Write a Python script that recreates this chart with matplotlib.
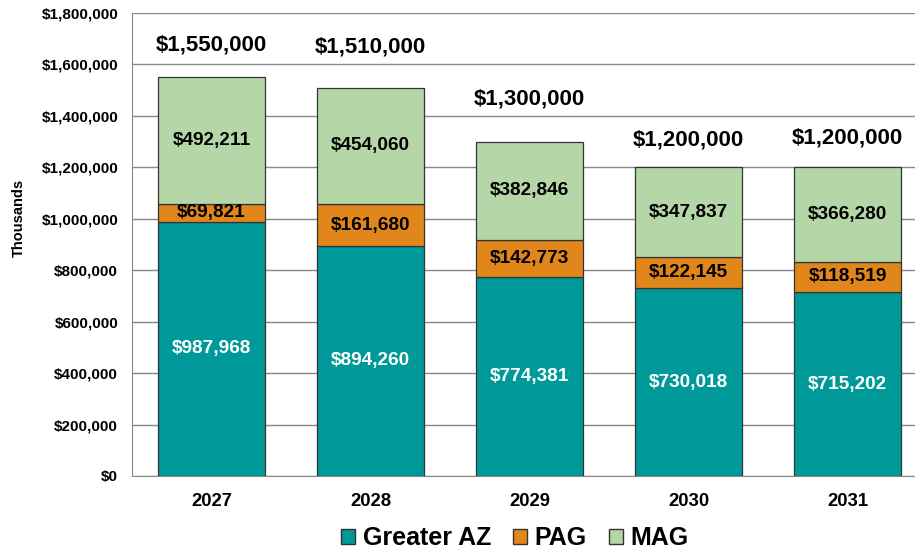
import matplotlib.pyplot as plt
from matplotlib.patches import Patch
from matplotlib.ticker import FuncFormatter
import numpy as np

plt.rcParams['font.family'] = ['Liberation Sans', 'DejaVu Sans']
plt.rcParams['font.weight'] = 'bold'

# data (thousands of dollars)
years = ['2027', '2028', '2029', '2030', '2031']
greater_az = [987968, 894260, 774381, 730018, 715202]
pag = [69821, 161680, 142773, 122145, 118519]
mag = [492211, 454060, 382846, 347837, 366280]
totals = [1550000, 1510000, 1300000, 1200000, 1200000]
total_label_gap = [125000, 158000, 166000, 106000, 114000]

c_az = '#009999'
c_pag = '#E0861A'
c_mag = '#B5D7A8'

fig = plt.figure(figsize=(9.15, 5.5), dpi=100)
ax = fig.add_axes([132/915, 74/550, 795/915, 463/550])

x = np.arange(len(years))
w = 0.67
b1 = ax.bar(x, greater_az, w, color=c_az, edgecolor='#333333', linewidth=0.9, zorder=3)
b2 = ax.bar(x, pag, w, bottom=greater_az, color=c_pag, edgecolor='#333333', linewidth=0.9, zorder=3)
bottom3 = np.array(greater_az) + np.array(pag)
b3 = ax.bar(x, mag, w, bottom=bottom3, color=c_mag, edgecolor='#333333', linewidth=0.9, zorder=3)

for i in range(len(years)):
    ax.text(x[i], greater_az[i] / 2, '${:,}'.format(greater_az[i]), ha='center', va='center',
            color='white', fontsize=13.7, fontweight='bold', zorder=4)
    ax.text(x[i], greater_az[i] + pag[i] / 2, '${:,}'.format(pag[i]), ha='center', va='center',
            color='black', fontsize=13.7, fontweight='bold', zorder=4)
    ax.text(x[i], bottom3[i] + mag[i] / 2, '${:,}'.format(mag[i]), ha='center', va='center',
            color='black', fontsize=13.7, fontweight='bold', zorder=4)
    ax.text(x[i], totals[i] + total_label_gap[i], '${:,}'.format(totals[i]), ha='center', va='center',
            color='black', fontsize=16, fontweight='bold', zorder=4)

ax.set_xlim(-0.5, len(years) - 0.5)
ax.set_ylim(0, 1800000)
ax.set_yticks(np.arange(0, 1800001, 200000))
ax.yaxis.set_major_formatter(FuncFormatter(lambda v, p: '${:,.0f}'.format(v)))
ax.set_xticks(x)
ax.set_xticklabels(years, fontsize=13.3, fontweight='bold')
ax.tick_params(axis='y', labelsize=11, length=0, pad=10)
ax.tick_params(axis='x', length=0, pad=12)
ax.grid(axis='y', color='#888888', linewidth=1.0, zorder=0)
for s in ['top', 'right']:
    ax.spines[s].set_visible(False)
ax.spines['left'].set_color('#888888')
ax.spines['bottom'].set_color('#888888')

ax.set_ylabel('Thousands', fontsize=10.5, fontweight='bold')
ax.yaxis.set_label_coords(-0.133, 0.557)

handles = [Patch(facecolor=c_az, edgecolor='#333333'),
           Patch(facecolor=c_pag, edgecolor='#333333'),
           Patch(facecolor=c_mag, edgecolor='#333333')]
fig.legend(handles, ['Greater AZ', 'PAG', 'MAG'], loc='center', bbox_to_anchor=(515/915, 1 - 538/550),
           ncol=3, frameon=False, handlelength=0.55, handleheight=0.55,
           handletextpad=0.3, columnspacing=0.9, prop={'weight': 'bold', 'size': 18})

fig.savefig('out.png', dpi=100)
